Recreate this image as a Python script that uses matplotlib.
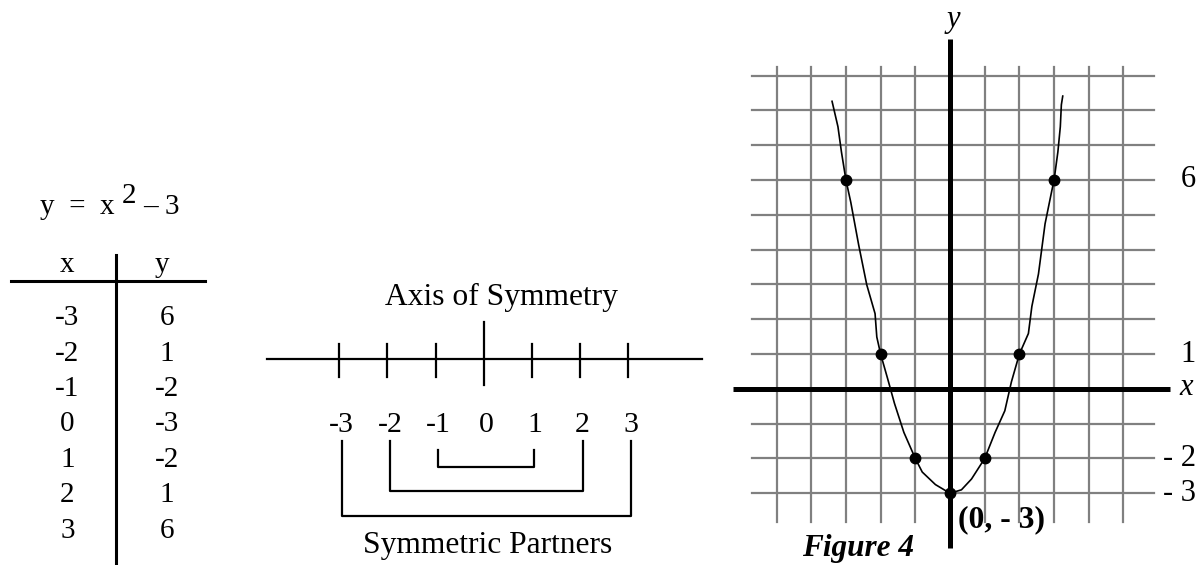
import matplotlib
matplotlib.use("Agg")
import matplotlib.pyplot as plt

# ---------------- data ----------------
equation_parts = ["y  =  x", "2", "\u2013 3"]
x_values = [-3, -2, -1, 0, 1, 2, 3]
y_values = [6, 1, -2, -3, -2, 1, 6]
table_headers = ["x", "y"]

symmetry_ticks = [-3, -2, -1, 0, 1, 2, 3]
partner_pairs = [(-1, 1), (-2, 2), (-3, 3)]
axis_title = "Axis of Symmetry"
partners_title = "Symmetric Partners"

# hand-drawn curve
curve_x = [-3.40, -3.23, -3.13, -3.00, -2.86, -2.63, -2.40, -2.16, -2.11, -2.00,
           -1.80, -1.60, -1.33, -1.00, -0.80, -0.42, 0.00, 0.33, 0.62, 1.00,
           1.30, 1.58, 1.77, 2.00, 2.26, 2.36, 2.55, 2.74, 2.93, 3.00,
           3.11, 3.18, 3.21, 3.25]
curve_y = [8.26, 7.53, 6.81, 6.00, 5.36, 4.12, 2.99, 2.16, 1.49, 1.00,
           0.30, -0.42, -1.25, -2.00, -2.39, -2.75, -3.00, -2.90, -2.59, -2.00,
           -1.25, -0.63, 0.20, 1.00, 1.59, 2.37, 3.30, 4.74, 5.67, 6.00,
           6.81, 7.53, 8.16, 8.41]
grid_x = [-5, -4, -3, -2, -1, 0, 1, 2, 3, 4, 5]
grid_y = [-3, -2, -1, 0, 1, 2, 3, 4, 5, 6, 7, 8, 9]
marked_y = [6, 1, -2, -3]
marked_labels = ["6", "1", "- 2", "- 3"]
vertex_label = "(0, - 3)"
figure_label = "Figure 4"

SERIF = "Liberation Serif"
W, H = 1197, 565
fig = plt.figure(figsize=(W / 100, H / 100), dpi=100)

# ---------------- left: table ----------------
axT = fig.add_axes([0, 0, 240 / W, 1])
axT.set_xlim(-0.678, 1.734)
axT.set_ylim(6.97, -8.99)
axT.axis("off")
fs_t = 21
axT.text(-0.276, -3.14, equation_parts[0], fontsize=fs_t, family=SERIF, ha="left", va="center")
axT.text(0.548, -3.45, equation_parts[1], fontsize=fs_t, family=SERIF, ha="left", va="center")
axT.text(0.759, -3.14, equation_parts[2], fontsize=fs_t, family=SERIF, ha="left", va="center")
axT.text(0, -1.5, table_headers[0], fontsize=fs_t, family=SERIF, ha="center", va="center")
axT.text(0.95, -1.5, table_headers[1], fontsize=fs_t, family=SERIF, ha="center", va="center")
axT.plot([-0.568, 1.382], [-1.06, -1.06], color="black", lw=2.2)
axT.plot([0.487, 0.487], [-1.79, 6.91], color="black", lw=2.2)
for i, (xv, yv) in enumerate(zip(x_values, y_values)):
    axT.text(0, i, str(xv), fontsize=fs_t, family=SERIF, ha="center", va="center")
    axT.text(1.0, i, str(yv), fontsize=fs_t, family=SERIF, ha="center", va="center")

# ---------------- middle: number line ----------------
axM = fig.add_axes([240 / W, 0, 480 / W, 1])
axM.set_xlim(-5.06, 4.90)
axM.set_ylim(-4.27, 7.45)
axM.axis("off")
fs_m = 22.7
lw_m = 1.6
axM.plot([-4.5, 4.52], [0, 0], color="black", lw=lw_m)
for t in symmetry_ticks:
    if t == 0:
        axM.plot([t, t], [-0.54, 0.77], color="black", lw=lw_m)
    else:
        axM.plot([t, t], [-0.37, 0.31], color="black", lw=lw_m)
    axM.text(t + 0.05, -1.37, str(t), fontsize=21.5, family=SERIF, ha="center", va="center")
bottoms = {1: -2.24, 2: -2.74, 3: -3.26}
tops = {1: -1.89, 2: -1.70, 3: -1.70}
for a, b in partner_pairs:
    k = b
    axM.plot([a + 0.05, a + 0.05, b + 0.05, b + 0.05],
             [tops[k], bottoms[k], bottoms[k], tops[k]], color="black", lw=lw_m)
axM.text(0.37, 1.27, axis_title, fontsize=fs_m, family=SERIF, ha="center", va="center")
axM.text(0.08, -3.86, partners_title, fontsize=fs_m, family=SERIF, ha="center", va="center")

# ---------------- right: graph ----------------
axG = fig.add_axes([720 / W, 0, 477 / W, 1])
axG.set_xlim(-6.63, 7.12)
axG.set_ylim(-5.06, 11.17)
axG.axis("off")
grid_color = "#808080"
for gy in grid_y:
    axG.plot([-5.70, 5.89], [gy, gy], color=grid_color, lw=1.6, zorder=1)
for gx in grid_x:
    axG.plot([gx, gx], [-3.83, 9.25], color=grid_color, lw=1.6, zorder=1)
axG.plot([-6.25, 6.34], [0, 0], color="black", lw=3.6, zorder=2, solid_capstyle="butt")
axG.plot([0, 0], [-4.57, 10.05], color="black", lw=3.6, zorder=2, solid_capstyle="butt")
axG.plot(curve_x, curve_y, color="black", lw=1.2, zorder=3)
axG.plot(x_values, y_values, "o", color="black", markersize=7.5, zorder=4)
fs_g = 22
for yv, lab in zip(marked_y, marked_labels):
    axG.text(7.09, yv, lab, fontsize=fs_g, family=SERIF, ha="right", va="center")
axG.text(0.09, 10.6, "y", fontsize=fs_g, family=SERIF, style="italic", ha="center", va="center")
axG.text(6.8, 0.05, "x", fontsize=fs_g, family=SERIF, style="italic", ha="center", va="center")
axG.text(0.23, -3.77, vertex_label, fontsize=22.8, family=SERIF, weight="bold", ha="left", va="center")
axG.text(-4.27, -4.8, figure_label, fontsize=22.5, family=SERIF, weight="bold", style="italic",
         ha="left", va="baseline")

fig.savefig("out.png", dpi=100, facecolor="white")
